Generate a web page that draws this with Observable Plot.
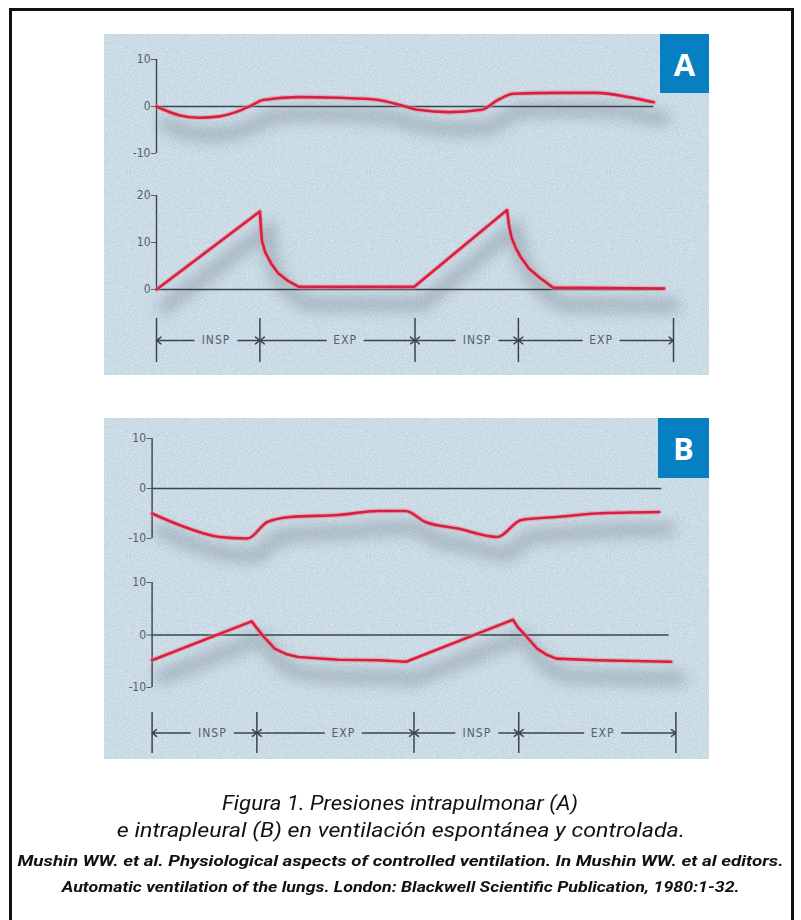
<!DOCTYPE html>
<html><head><meta charset="utf-8">
<script src="https://cdn.jsdelivr.net/npm/d3@7"></script>
<script src="https://cdn.jsdelivr.net/npm/@observablehq/plot@0.6"></script>
<style>
html,body{margin:0;padding:0;background:#fff;width:801px;height:920px;overflow:hidden;position:relative;}
#frame{position:absolute;left:9px;top:8px;width:779px;height:960px;border:3px solid #111;box-sizing:content-box;}
.panel{position:absolute;left:104px;width:605px;height:341px;background-color:#c0d4e1;}
.tag{position:absolute;background:#0780c2;color:#fff;font:700 31px "Open Sans","Liberation Sans",sans-serif;display:flex;align-items:center;justify-content:center;}
.cap{position:absolute;left:0;width:801px;text-align:center;white-space:nowrap;color:#111;font-style:italic;font-family:"Liberation Sans Narrow","Roboto","Liberation Sans",sans-serif;}
.cap span{display:inline-block;transform-origin:50% 50%;}
</style>
</head><body>
<div id="frame"></div>
<div class="panel" id="pA" style="top:34px"></div>
<div class="panel" id="pB" style="top:418px"></div>
<div class="tag" style="left:660px;top:34px;width:49px;height:59px">A</div>
<div class="tag" style="left:658px;top:418px;width:51px;height:60px">B</div>
<div class="cap" id="c1" style="top:789px;font-size:21px;line-height:28px"><span>Figura 1. Presiones intrapulmonar (A)</span></div>
<div class="cap" id="c2" style="top:816px;font-size:21px;line-height:28px"><span>e intrapleural (B) en ventilación espontánea y controlada.</span></div>
<div class="cap" id="c3" style="top:851px;font-size:15px;line-height:20px;font-weight:700"><span>Mushin WW. et al. Physiological aspects of controlled ventilation. In Mushin WW. et al editors.</span></div>
<div class="cap" id="c4" style="top:877px;font-size:15px;line-height:20px;font-weight:700"><span>Automatic ventilation of the lungs. London: Blackwell Scientific Publication, 1980:1-32.</span></div>
<script>
// ---------- DATA (time in phase units, pressure in cmH2O) ----------
// Panel A, top: intrapulmonary pressure, spontaneous ventilation
const aTopT = [0, 0.45, 0.83, 1.22, 1.53, 1.83, 2.06, 2.75, 3.52, 4.29, 4.75, 5.06, 5.67, 6.29, 6.59, 6.9, 7.74, 8.51, 9.13, 9.62];
const aTopP = [0, -1.9, -2.4, -2.1, -1.2, 0.2, 1.4, 2.0, 1.85, 1.4, 0.2, -0.7, -1.2, -0.7, 1.3, 2.7, 2.9, 2.9, 2.0, 0.9];
// Panel A, bottom: intrapulmonary pressure, controlled ventilation
const aBotT = [0, 2.0, 2.02, 2.04, 2.1, 2.22, 2.35, 2.52, 2.75, 4.98, 6.78, 6.82, 6.87, 6.95, 7.05, 7.2, 7.4, 7.67, 9.82];
const aBotP = [0, 16.6, 13, 10.4, 8, 5.5, 3.5, 2.0, 0.55, 0.55, 16.9, 13.5, 11, 8.8, 6.8, 4.5, 2.6, 0.4, 0.2];
// Panel B, top: intrapleural pressure, spontaneous ventilation
const bTopT = [0, 0.52, 1.29, 1.82, 2.2, 2.64, 3.56, 4.32, 4.84, 5.22, 5.83, 6.59, 7.05, 7.72, 8.48, 9.68];
const bTopP = [-5.0, -7.3, -9.7, -10.0, -6.7, -5.7, -5.3, -4.5, -4.5, -6.7, -8.0, -9.7, -6.3, -5.7, -5.0, -4.7];
// Panel B, bottom: intrapleural pressure, controlled ventilation
const bBotT = [0, 1.9, 2.0, 2.13, 2.34, 2.55, 2.79, 3.56, 4.32, 4.85, 6.89, 6.98, 7.12, 7.35, 7.52, 7.72, 8.48, 9.91];
const bBotP = [-4.8, 2.6, 1.3, -0.3, -2.6, -3.6, -4.2, -4.7, -4.8, -5.1, 2.9, 1.5, 0, -2.6, -3.7, -4.5, -4.8, -5.1];
// zero-line extents
const aTopZeroEnd = 9.62, aBotZeroEnd = 9.82, bTopZeroEnd = 9.73, bBotZeroEnd = 9.87;
// phases
const phaseBounds = [0, 2, 5, 7, 10];
const phaseStart = [0, 2, 5, 7];
const phaseEnd = [2, 5, 7, 10];
const phaseLabel = ["INSP", "EXP", "INSP", "EXP"];
const phaseLabelAt = [1.15, 3.65, 6.2, 8.6];
// y axis ranges (tick labels at both ends and 0 / midpoint)
const yRangeA1 = [-10, 10], yRangeA2 = [0, 20], yRangeB = [-10, 10];

// ---------- STYLE ----------
const INK = "#3a444c";
const RED = "#d5213f";
const SHADOW = "#6f7f8b";
const TICKFONT = '"Liberation Sans Narrow","DejaVu Sans Condensed",sans-serif';

// noise texture for panels
const noise = "data:image/svg+xml," + encodeURIComponent('<svg xmlns="http://www.w3.org/2000/svg" width="240" height="240"><filter id="n" x="0" y="0" width="100%" height="100%"><feTurbulence type="fractalNoise" baseFrequency="1.1" numOctaves="2" stitchTiles="stitch"/><feColorMatrix type="matrix" values="0 0 0 0 1  0 0 0 0 1  0 0 0 0 1  0 0 0 1.0 -0.33"/></filter><rect width="240" height="240" filter="url(#n)"/></svg>');
for (const id of ["pA", "pB"]) document.getElementById(id).style.backgroundImage = `url("${noise}")`;

const toRows = (T, P) => T.map((t, i) => ({t, p: P[i]}));

function place(svg, top, blurShadow) {
  svg.style.position = "absolute";
  svg.style.left = "104px";
  svg.style.top = top + "px";
  svg.style.overflow = "visible";
  document.body.appendChild(svg);
  if (blurShadow) {
    const g = svg.querySelector('g[aria-label="line"]');
    if (g) g.style.filter = "blur(7px)";
  }
}

function curveChart({rows, range, zeroEnd, x0, x10, pHi, pLo, curve}) {
  const mt = 20, mb = 30;
  const [lo, hi] = range;
  const svg = Plot.plot({
    width: 605, height: pLo - pHi + mt + mb,
    marginLeft: x0 - 104, marginRight: 104 + 605 - x10,
    marginTop: mt, marginBottom: mb,
    x: {domain: [0, 10], axis: null},
    y: {domain: [lo, hi], ticks: 2, tickSize: 5, tickPadding: 1, tickFormat: d => String(d), label: null},
    style: {background: "transparent", color: "#55606a", fontFamily: TICKFONT, fontSize: "12px"},
    marks: [
      Plot.line(rows, {x: "t", y: "p", curve, stroke: SHADOW, strokeWidth: 14, strokeOpacity: 0.42, dx: 9, dy: 17}),
      Plot.ruleY([0], {x1: 0, x2: zeroEnd, stroke: INK, strokeWidth: 1.3}),
      Plot.ruleX([0], {y1: lo, y2: hi, stroke: INK, strokeWidth: 1.4}),
      Plot.line(rows, {x: "t", y: "p", curve, stroke: "#ee8a9a", strokeWidth: 5, strokeOpacity: 0.55}),
      Plot.line(rows, {x: "t", y: "p", curve, stroke: RED, strokeWidth: 2.6})
    ]
  });
  place(svg, pHi - mt, true);
}

function phaseChart({x0, x10, top, height}) {
  const phases = phaseStart.map((s, i) => ({start: s, end: phaseEnd[i], label: phaseLabel[i], at: phaseLabelAt[i]}));
  const arrows = phases.flatMap(p => [{from: p.at, to: p.start, label: p.label}, {from: p.at, to: p.end, label: p.label}]);
  const arrowOpts = (inset) => ({x1: "from", x2: "to", y1: () => 0.5, y2: () => 0.5, stroke: INK, strokeWidth: 1.4, headLength: 6, headAngle: 75, insetStart: inset});
  const svg = Plot.plot({
    width: 605, height,
    marginLeft: x0 - 104, marginRight: 104 + 605 - x10,
    marginTop: 0, marginBottom: 0,
    x: {domain: [0, 10], axis: null},
    y: {domain: [0, 1], axis: null},
    style: {background: "transparent", color: INK, fontFamily: TICKFONT, fontSize: "12px", letterSpacing: "1px"},
    marks: [
      Plot.ruleX(phaseBounds, {stroke: INK, strokeWidth: 1.5}),
      Plot.arrow(arrows.filter(a => a.label === "INSP"), arrowOpts(22)),
      Plot.arrow(arrows.filter(a => a.label === "EXP"), arrowOpts(19)),
      Plot.text(phases, {x: "at", y: () => 0.5, text: "label", fill: "#55606a", fontSize: 12})
    ]
  });
  place(svg, top, false);
}

// Panel A
curveChart({rows: toRows(aTopT, aTopP), range: yRangeA1, zeroEnd: aTopZeroEnd, x0: 156, x10: 673, pHi: 59, pLo: 153, curve: "monotone-x"});
curveChart({rows: toRows(aBotT, aBotP), range: yRangeA2, zeroEnd: aBotZeroEnd, x0: 156, x10: 673, pHi: 195, pLo: 289, curve: "linear"});
phaseChart({x0: 156, x10: 673, top: 318, height: 44});
// Panel B
curveChart({rows: toRows(bTopT, bTopP), range: yRangeB, zeroEnd: bTopZeroEnd, x0: 151.6, x10: 675.4, pHi: 438, pLo: 538, curve: "monotone-x"});
curveChart({rows: toRows(bBotT, bBotP), range: yRangeB, zeroEnd: bBotZeroEnd, x0: 151.6, x10: 675.4, pHi: 582, pLo: 687, curve: "linear"});
phaseChart({x0: 151.6, x10: 675.4, top: 712, height: 41});

// fit caption lines to the reference widths
const capWidths = {c1: 356, c2: 568, c3: 766, c4: 678};
for (const [id, w] of Object.entries(capWidths)) {
  const span = document.querySelector("#" + id + " span");
  const actual = span.getBoundingClientRect().width;
  span.style.transform = `scaleX(${w / actual})`;
}
</script>
</body></html>
